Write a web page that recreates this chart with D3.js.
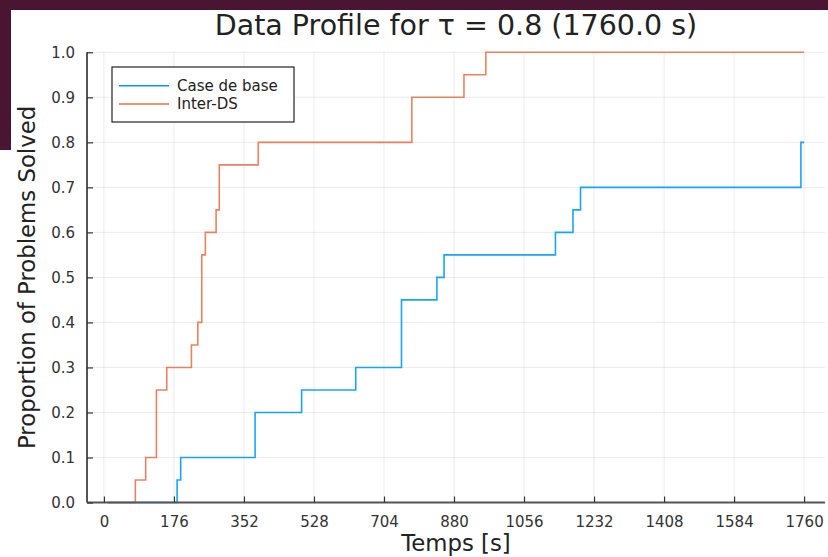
<!DOCTYPE html>
<html>
<head>
<meta charset="utf-8">
<script src="https://cdn.jsdelivr.net/npm/d3@7"></script>
<style>
  html, body { margin: 0; padding: 0; background: #ffffff; }
  svg { display: block; font-family: "DejaVu Sans", sans-serif; }
</style>
</head>
<body>
<svg id="chart" width="828" height="557"></svg>
<script>
// Solve times (seconds) at which the cumulative proportion steps up
const baseTimes = [10, 184, 193, 380, 497, 633, 748, 837, 855, 1135, 1179, 1198, 1752, 1760];
const baseValues = [0, 0.05, 0.10, 0.20, 0.25, 0.30, 0.45, 0.50, 0.55, 0.60, 0.65, 0.70, 0.80, 0.80];

const interTimes = [10, 79, 105, 132, 158, 220, 236, 246, 255, 282, 290, 388, 774, 905, 960, 1760];
const interValues = [0, 0.05, 0.10, 0.25, 0.30, 0.35, 0.40, 0.55, 0.60, 0.65, 0.75, 0.80, 0.90, 0.95, 1.00, 1.00];

const seriesNames = ["Case de base", "Inter-DS"];
const seriesColors = ["#009af9", "#e26f46"];

const xTicks = [0, 176, 352, 528, 704, 880, 1056, 1232, 1408, 1584, 1760];
const yTicks = [0, 0.1, 0.2, 0.3, 0.4, 0.5, 0.6, 0.7, 0.8, 0.9, 1.0];

const titleText = "Data Profile for τ = 0.8 (1760.0 s)";
const xLabel = "Temps [s]";
const yLabel = "Proportion of Problems Solved";

const svg = d3.select("#chart");
const W = 828, H = 557;

// dark frame around the top-left corner
svg.append("rect").attr("x", 0).attr("y", 0).attr("width", W).attr("height", 10).attr("fill", "#4a1433");
svg.append("rect").attr("x", 0).attr("y", 0).attr("width", 11).attr("height", 150).attr("fill", "#4a1433");

const plot = { left: 87, right: 825, top: 52.3, bottom: 502.5 };

// x domain widened 3% on each side of the data span
const tMin = d3.min(baseTimes.concat(interTimes));
const tMax = d3.max(baseTimes.concat(interTimes));
const pad = (tMax - tMin) * 0.03;
const x = d3.scaleLinear().domain([tMin - pad, tMax + pad]).range([plot.left, plot.right]);
const y = d3.scaleLinear().domain([0, 1]).range([plot.bottom, plot.top]);

// grid
const grid = svg.append("g");
grid.selectAll("line.vg").data(xTicks).join("line")
  .attr("x1", d => x(d)).attr("x2", d => x(d))
  .attr("y1", plot.top).attr("y2", plot.bottom)
  .attr("stroke", "#000").attr("stroke-opacity", 0.08).attr("stroke-width", 1);
grid.selectAll("line.hg").data(yTicks).join("line")
  .attr("x1", plot.left).attr("x2", plot.right)
  .attr("y1", d => y(d)).attr("y2", d => y(d))
  .attr("stroke", "#000").attr("stroke-opacity", 0.08).attr("stroke-width", 1);

// series
const line = d3.line().x(d => x(d[0])).y(d => y(d[1])).curve(d3.curveStepAfter);
const series = [d3.zip(baseTimes, baseValues), d3.zip(interTimes, interValues)];
svg.append("g").selectAll("path").data(series).join("path")
  .attr("d", line)
  .attr("fill", "none")
  .attr("stroke", (d, i) => seriesColors[i])
  .attr("stroke-opacity", (d, i) => i === 1 ? 0.85 : 0.9)
  .attr("stroke-width", 1.6);

// axes: ticks point into the plot
const xAxis = d3.axisBottom(x).tickValues(xTicks).tickFormat(d3.format("d"))
  .tickSizeInner(-6).tickSizeOuter(0).tickPadding(14);
const yAxis = d3.axisLeft(y).tickValues(yTicks).tickFormat(d3.format(".1f"))
  .tickSizeInner(-6).tickSizeOuter(0).tickPadding(12);

const gx = svg.append("g").attr("transform", `translate(0,${plot.bottom})`).call(xAxis);
const gy = svg.append("g").attr("transform", `translate(${plot.left},0)`).call(yAxis);
[gx, gy].forEach(g => {
  g.select(".domain").attr("stroke", "#555").attr("stroke-width", 2);
  g.selectAll(".tick line").attr("stroke", "#333").attr("stroke-width", 1.2);
  g.selectAll(".tick text").attr("fill", "#333").style("font-size", "15px")
    .style("font-family", "DejaVu Sans, sans-serif");
});
gx.select(".domain").attr("d", `M${plot.left},0H${plot.right}`);
gy.select(".domain").attr("d", `M0,${plot.bottom}V${plot.top}`);

// title and axis labels
const cx = (plot.left + plot.right) / 2;
svg.append("text").attr("x", cx).attr("y", 35).attr("text-anchor", "middle")
  .attr("fill", "#222").style("font-size", "28.5px").text(titleText);
svg.append("text").attr("x", cx).attr("y", 551).attr("text-anchor", "middle")
  .attr("fill", "#222").style("font-size", "22.8px").text(xLabel);
svg.append("text").attr("transform", `translate(35,${(plot.top + plot.bottom) / 2}) rotate(-90)`)
  .attr("text-anchor", "middle").attr("fill", "#222").style("font-size", "22.8px").text(yLabel);

// legend
const lg = svg.append("g").attr("transform", "translate(112,67)");
lg.append("rect").attr("width", 182).attr("height", 55)
  .attr("fill", "#fff").attr("stroke", "#222").attr("stroke-width", 1.2);
seriesNames.forEach((name, i) => {
  const yy = 18.7 + i * 18.3;
  lg.append("line").attr("x1", 7).attr("x2", 57).attr("y1", yy).attr("y2", yy)
    .attr("stroke", seriesColors[i]).attr("stroke-width", 1.6);
  lg.append("text").attr("x", 65).attr("y", yy).attr("dy", "0.35em")
    .attr("fill", "#222").style("font-size", "15px").text(name);
});
</script>
</body>
</html>
